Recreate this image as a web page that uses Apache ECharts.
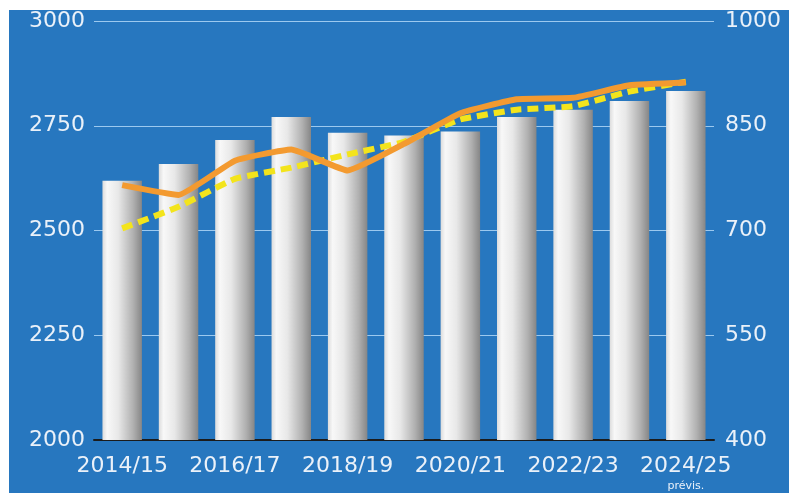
<!DOCTYPE html>
<html>
<head>
<meta charset="utf-8">
<script src="https://cdn.jsdelivr.net/npm/echarts@6/dist/echarts.min.js"></script>
<style>
html,body{margin:0;padding:0;background:#ffffff;width:789px;height:493px;overflow:hidden;}
#c{position:absolute;left:9px;top:10px;width:780px;height:483px;}
</style>
</head>
<body>
<div id="c"></div>
<script>
const categories = ['2014/15','2015/16','2016/17','2017/18','2018/19','2019/20','2020/21','2021/22','2022/23','2023/24','2024/25'];
const barValues = [2619, 2659, 2716, 2771, 2733, 2727, 2736, 2771, 2788, 2809, 2833];
const orangeValues = [765, 751, 800, 816, 786, 824, 868, 888, 890, 908, 912];
const yellowValues = [703, 734, 774, 790, 809, 827, 859, 873, 878, 899, 913];
const leftTicks = {min: 2000, max: 3000, interval: 250};
const rightTicks = {min: 400, max: 1000, interval: 150};
const lastNote = 'prévis.';

const chart = echarts.init(document.getElementById('c'));
const txt = '#eaf1f9';
const font = 'DejaVu Sans';
const plain = function (v) { return String(v); };
chart.setOption({
  backgroundColor: '#2777bf',
  animation: false,
  grid: {left: 85, top: 7, width: 620, height: 424},
  xAxis: {
    type: 'category',
    data: categories,
    axisLine: {show: true, lineStyle: {color: '#1b1b1b', width: 2}},
    axisTick: {show: false},
    axisLabel: {
      interval: 1,
      margin: 13,
      color: txt,
      fontFamily: font,
      fontSize: 22,
      lineHeight: 26,
      formatter: function (v, i) {
        return i === categories.length - 1 ? v + '\n{s|' + lastNote + '}' : v;
      },
      rich: {s: {fontSize: 11, fontFamily: font, color: txt, lineHeight: 14}}
    }
  },
  yAxis: [
    {
      type: 'value', min: leftTicks.min, max: leftTicks.max, interval: leftTicks.interval,
      axisLine: {show: false}, axisTick: {show: false},
      axisLabel: {color: txt, fontFamily: font, fontSize: 22, margin: 9, formatter: plain},
      splitLine: {show: true, lineStyle: {color: '#9cc9ef', width: 1}}
    },
    {
      type: 'value', min: rightTicks.min, max: rightTicks.max, interval: rightTicks.interval,
      axisLine: {show: false}, axisTick: {show: false},
      axisLabel: {color: txt, fontFamily: font, fontSize: 22, margin: 11, formatter: plain},
      splitLine: {show: false}
    }
  ],
  series: [
    {
      type: 'bar',
      data: barValues,
      yAxisIndex: 0,
      barCategoryGap: '30%',
      z: 1,
      itemStyle: {
        color: new echarts.graphic.LinearGradient(0, 0, 1, 0, [
          {offset: 0, color: '#dcdcdc'},
          {offset: 0.12, color: '#f8f8f8'},
          {offset: 0.4, color: '#e8e8e8'},
          {offset: 0.78, color: '#b0b0b0'},
          {offset: 1, color: '#868686'}
        ])
      }
    },
    {
      type: 'line',
      data: yellowValues,
      yAxisIndex: 1,
      smooth: 0.12,
      symbol: 'none',
      z: 3,
      lineStyle: {color: '#f3e41c', width: 6, type: [11, 6]}
    },
    {
      type: 'line',
      data: orangeValues,
      yAxisIndex: 1,
      smooth: 0.12,
      symbol: 'none',
      z: 4,
      lineStyle: {color: '#f39a30', width: 6}
    }
  ]
});
</script>
</body>
</html>
